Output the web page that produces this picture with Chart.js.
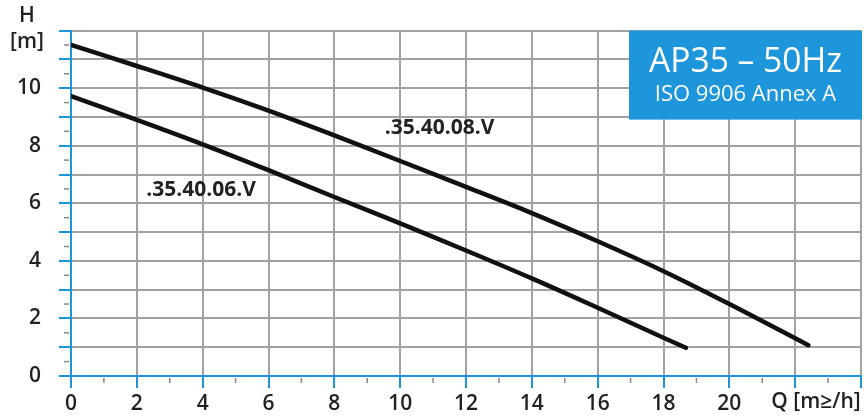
<!DOCTYPE html>
<html>
<head>
<meta charset="utf-8">
<script src="https://cdn.jsdelivr.net/npm/chart.js@4/dist/chart.umd.min.js"></script>
<style>
  html, body { margin: 0; padding: 0; background: #fff; }
  #wrap { width: 864px; height: 418px; }
</style>
</head>
<body>
<div id="wrap"><canvas id="pumpChart" width="864" height="418"></canvas></div>
<script>
// flow Q [m3/h] and head H [m]
const q08 = [0, 2, 4, 6, 8, 10, 12, 14, 16, 18, 20, 22.4];
const h08 = [11.5, 10.77, 10.02, 9.22, 8.36, 7.47, 6.57, 5.66, 4.68, 3.64, 2.5, 1.07];
const q06 = [0, 2, 4, 6, 8, 10, 12, 14, 16, 18, 18.68];
const h06 = [9.72, 8.9, 8.05, 7.15, 6.22, 5.3, 4.36, 3.39, 2.37, 1.33, 0.98];

const seriesNames = ['.35.40.08.V', '.35.40.06.V'];
const labelAt = [[11.2, 8.6], [3.95, 6.45]];

const yTicks = [0, 2, 4, 6, 8, 10];
const xTicks = [0, 2, 4, 6, 8, 10, 12, 14, 16, 18, 20];

const boxTitle = 'AP35 \u2013 50Hz';
const boxSub = 'ISO 9906 Annex A';

const blue = '#1d96dc';
const gridGray = '#a2a2a2';
const ink = '#222222';
const font = '"Open Sans", "Noto Sans", sans-serif';

const toPts = (xs, ys) => xs.map((x, i) => ({ x: x, y: ys[i] }));

const decor = {
  id: 'decor',
  afterDatasetsDraw(chart) {
    const ctx = chart.ctx;
    const xs = chart.scales.x, ys = chart.scales.y;
    const area = chart.chartArea;
    ctx.save();

    // minor ticks
    ctx.strokeStyle = '#888';
    ctx.lineWidth = 1.5;
    for (let v = 0.5; v < 12; v += 1) {
      const py = ys.getPixelForValue(v);
      ctx.beginPath(); ctx.moveTo(area.left - 7, py); ctx.lineTo(area.left - 2, py); ctx.stroke();
    }
    for (let v = 1; v < 24; v += 2) {
      const px = xs.getPixelForValue(v);
      ctx.beginPath(); ctx.moveTo(px, area.bottom + 2); ctx.lineTo(px, area.bottom + 7); ctx.stroke();
    }

    // series labels
    ctx.fillStyle = ink;
    ctx.font = 'bold 21px ' + font;
    ctx.textAlign = 'center';
    ctx.textBaseline = 'middle';
    seriesNames.forEach((n, i) => {
      ctx.fillText(n, xs.getPixelForValue(labelAt[i][0]), ys.getPixelForValue(labelAt[i][1]), 120);
    });

    // axis titles
    ctx.font = '600 21px ' + font;
    ctx.fillText('H', 27, 16);
    ctx.fillText('[m]', 27, 42);
    ctx.fillText('Q [m\u2265/h]', 816, 402, 94);

    // blue title box
    const bw = 233, bh = 89;
    const bx = area.right - bw + 1, by = area.top;
    ctx.fillStyle = blue;
    ctx.fillRect(bx, by, bw, bh);
    ctx.fillStyle = '#fff';
    ctx.font = '34px ' + font;
    ctx.fillText(boxTitle, bx + bw / 2, by + 32, 193);
    ctx.font = '22px ' + font;
    ctx.fillText(boxSub, bx + bw / 2, by + 64, 193);
    ctx.restore();
  }
};

new Chart(document.getElementById('pumpChart'), {
  type: 'line',
  data: {
    datasets: [
      { label: seriesNames[0], data: toPts(q08, h08) },
      { label: seriesNames[1], data: toPts(q06, h06) }
    ]
  },
  options: {
    responsive: false,
    animation: false,
    layout: { padding: { top: 30, right: 2, left: 0, bottom: 0 } },
    elements: {
      line: { borderColor: '#111', borderWidth: 4.5, borderCapStyle: 'round', tension: 0.35 },
      point: { radius: 0 }
    },
    plugins: { legend: { display: false }, tooltip: { enabled: false } },
    scales: {
      x: {
        type: 'linear', min: 0, max: 24,
        afterFit: (s) => { s.height = 42; },
        border: { color: blue, width: 2 },
        grid: { color: gridGray, lineWidth: 2, tickColor: blue, tickWidth: 2, tickLength: 12 },
        ticks: {
          stepSize: 2, padding: 3, color: ink, maxRotation: 0,
          font: { family: font, size: 21, weight: '600' },
          callback: (v) => xTicks.includes(v) ? v : ''
        }
      },
      y: {
        min: 0, max: 12,
        afterFit: (s) => { s.width = 71; },
        border: { color: blue, width: 2 },
        grid: { color: gridGray, lineWidth: 2, tickColor: blue, tickWidth: 2, tickLength: 12 },
        ticks: {
          stepSize: 1, padding: 18, color: ink,
          font: { family: font, size: 21, weight: '600' },
          callback: (v) => yTicks.includes(v) ? v : ''
        }
      }
    }
  },
  plugins: [decor]
});
</script>
</body>
</html>
